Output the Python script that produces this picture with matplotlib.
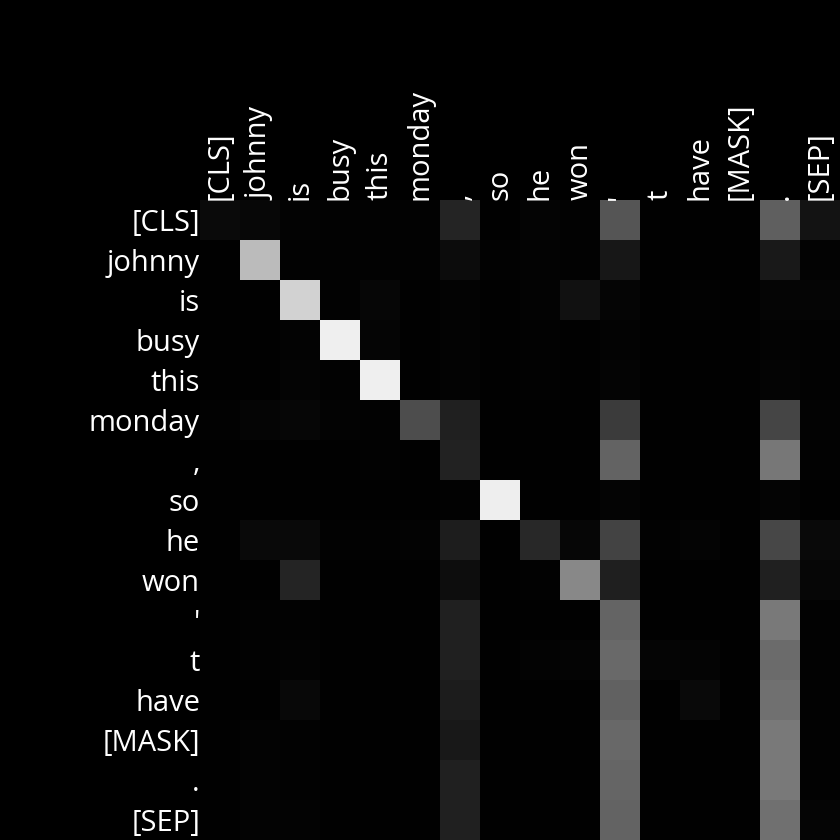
import numpy as np
import matplotlib.pyplot as plt

tokens = ["[CLS]", "johnny", "is", "busy", "this", "monday", ",", "so",
          "he", "won", "'", "t", "have", "[MASK]", ".", "[SEP]"]

# attention weights, one row per query token
row_cls    = [0.040, 0.028, 0.012, 0.008, 0.008, 0.008, 0.141, 0.004, 0.016, 0.008, 0.333, 0.004, 0.004, 0.004, 0.373, 0.075]
row_johnny = [0.004, 0.733, 0.008, 0.008, 0.008, 0.008, 0.047, 0.008, 0.012, 0.008, 0.090, 0.004, 0.004, 0.004, 0.098, 0.012]
row_is     = [0.004, 0.004, 0.824, 0.008, 0.024, 0.004, 0.012, 0.004, 0.012, 0.067, 0.020, 0.004, 0.008, 0.004, 0.020, 0.020]
row_busy   = [0.004, 0.004, 0.012, 0.937, 0.020, 0.004, 0.012, 0.004, 0.008, 0.004, 0.012, 0.004, 0.004, 0.004, 0.012, 0.008]
row_this   = [0.004, 0.004, 0.016, 0.008, 0.937, 0.004, 0.012, 0.004, 0.008, 0.004, 0.016, 0.004, 0.004, 0.004, 0.016, 0.008]
row_monday = [0.008, 0.020, 0.027, 0.012, 0.008, 0.302, 0.125, 0.004, 0.004, 0.004, 0.231, 0.004, 0.004, 0.004, 0.271, 0.012]
row_comma  = [0.004, 0.004, 0.004, 0.004, 0.008, 0.004, 0.133, 0.004, 0.004, 0.004, 0.388, 0.004, 0.004, 0.004, 0.467, 0.008]
row_so     = [0.004, 0.004, 0.004, 0.004, 0.004, 0.004, 0.008, 0.933, 0.004, 0.004, 0.016, 0.004, 0.004, 0.004, 0.016, 0.004]
row_he     = [0.004, 0.039, 0.039, 0.008, 0.008, 0.012, 0.114, 0.004, 0.161, 0.027, 0.263, 0.008, 0.016, 0.004, 0.278, 0.039]
row_won    = [0.004, 0.004, 0.145, 0.004, 0.004, 0.004, 0.051, 0.004, 0.008, 0.533, 0.122, 0.004, 0.004, 0.004, 0.125, 0.024]
row_apos   = [0.004, 0.008, 0.008, 0.004, 0.004, 0.004, 0.125, 0.004, 0.004, 0.004, 0.392, 0.004, 0.004, 0.004, 0.475, 0.008]
row_t      = [0.004, 0.008, 0.012, 0.004, 0.004, 0.004, 0.125, 0.004, 0.012, 0.016, 0.416, 0.020, 0.016, 0.004, 0.420, 0.008]
row_have   = [0.004, 0.004, 0.035, 0.004, 0.004, 0.004, 0.110, 0.004, 0.004, 0.004, 0.384, 0.004, 0.039, 0.004, 0.439, 0.008]
row_mask   = [0.004, 0.012, 0.008, 0.004, 0.004, 0.004, 0.094, 0.004, 0.004, 0.004, 0.408, 0.004, 0.004, 0.004, 0.478, 0.008]
row_period = [0.004, 0.012, 0.008, 0.004, 0.004, 0.004, 0.125, 0.004, 0.004, 0.004, 0.396, 0.004, 0.004, 0.004, 0.475, 0.008]
row_sep    = [0.004, 0.012, 0.012, 0.004, 0.004, 0.004, 0.125, 0.004, 0.004, 0.004, 0.388, 0.004, 0.004, 0.004, 0.439, 0.020]

attn = np.array([row_cls, row_johnny, row_is, row_busy, row_this, row_monday,
                 row_comma, row_so, row_he, row_won, row_apos, row_t,
                 row_have, row_mask, row_period, row_sep])

plt.rcParams["font.family"] = ["Open Sans", "DejaVu Sans"]

fig = plt.figure(figsize=(8.4, 8.4), dpi=100, facecolor="black")
ax = fig.add_axes([200 / 840, 0, 640 / 840, 640 / 840])
ax.imshow(attn, cmap="gray", vmin=0, vmax=1, aspect="auto", interpolation="nearest")

ax.set_xticks(range(len(tokens)))
ax.set_yticks(range(len(tokens)))
ax.set_xticklabels(tokens, rotation=90, fontsize=21, color="white")
ax.set_yticklabels(tokens, fontsize=21, color="white")
ax.xaxis.tick_top()
ax.tick_params(length=0, pad=0)
for s in ax.spines.values():
    s.set_visible(False)

fig.savefig("out.png", dpi=100, facecolor="black")
